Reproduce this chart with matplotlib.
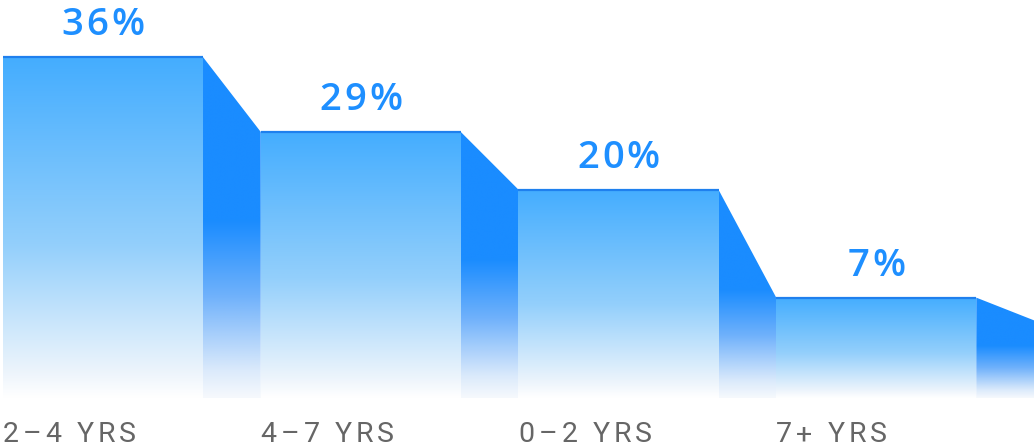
import matplotlib.pyplot as plt
import numpy as np
from matplotlib.colors import LinearSegmentedColormap
from matplotlib.font_manager import FontProperties
from matplotlib.patches import Polygon

# data
categories = ["2–4 YRS", "4–7 YRS", "0–2 YRS", "7+ YRS"]
values = [36, 29, 20, 7]
# drawn heights (same units as the percentages, the design is not to scale)
bar_heights = [36.0, 28.1, 22.0, 10.6]
tail_height = 8.2

BAR_W = 0.776
FRONT = LinearSegmentedColormap.from_list(
	"front", [(0.0, "#ffffff"), (0.07, "#eef5fc"), (0.45, "#93cffb"), (1.0, "#44adff")])
SIDE = LinearSegmentedColormap.from_list(
	"side", [(0.0, "#f6f9fd"), (0.08, "#dbeafb"), (0.3, "#6fb1fb"), (0.52, "#1a8cff"), (1.0, "#1a8cff")])
VALUE_COLOR = "#1e8fff"
LABEL_COLOR = "#666666"


def gradient_fill(ax, verts, x0, x1, top, cmap, z):
	grad = np.linspace(0, 1, 256).reshape(-1, 1)
	im = ax.imshow(grad, extent=(x0, x1, 0, top), origin="lower", cmap=cmap,
				   aspect="auto", interpolation="bicubic", zorder=z)
	patch = Polygon(verts, closed=True, facecolor="none", edgecolor="none")
	ax.add_patch(patch)
	im.set_clip_path(patch)


def spaced_text(ax, renderer, xy, s, prop, spacing, ha="left", dy=0, **kw):
	# matplotlib has no letter-spacing, so place the glyphs one by one
	def width(t):
		return renderer.get_text_width_height_descent(t, prop, ismath=False)[0]
	ref = width("l")
	offsets = [width(s[:k] + "l") - ref + k * spacing for k in range(len(s))]
	total = width(s) + (len(s) - 1) * spacing
	shift = -total / 2 if ha == "center" else 0
	for ch, off in zip(s, offsets):
		if ch == " ":
			continue
		ax.annotate(ch, xy, xytext=(off + shift, dy), textcoords="offset pixels",
					ha="left", va="baseline", fontproperties=prop, **kw)


fig = plt.figure(figsize=(10.34, 4.46), dpi=100)
ax = fig.add_axes([0, 0, 1, 1])
ax.set_axis_off()
renderer = fig.canvas.get_renderer()

value_font = FontProperties(family="Open Sans", weight="semibold", size=27.5)
label_font = FontProperties(family="Roboto", size=20.5)

x = np.arange(len(values))
next_heights = bar_heights[1:] + [tail_height]

for i, (h, hn) in enumerate(zip(bar_heights, next_heights)):
	left = x[i]
	right = x[i] + BAR_W
	nxt = x[i] + 1
	# slanted side face down to the next bar
	side = [(right, 0), (right, h), (nxt, hn), (nxt, 0)]
	gradient_fill(ax, side, right, nxt, h, SIDE, 1)
	# front face
	front = [(left, 0), (left, h), (right, h), (right, 0)]
	gradient_fill(ax, front, left, right, h, FRONT, 2)
	ax.plot([left, right], [h, h], color="#1f80ee", lw=1.6, zorder=3, solid_capstyle="butt")

	spaced_text(ax, renderer, (left + BAR_W / 2, h), f"{values[i]}%", value_font, 3.0,
				ha="center", dy=22, color=VALUE_COLOR, zorder=4)
	spaced_text(ax, renderer, (left, -4.65), categories[i], label_font, 4.0,
				ha="left", color=LABEL_COLOR, zorder=4)

ax.set_xlim(-0.0116, 4.0)
ax.set_ylim(-5.07, 42.03)

fig.savefig("out.png", dpi=100)
